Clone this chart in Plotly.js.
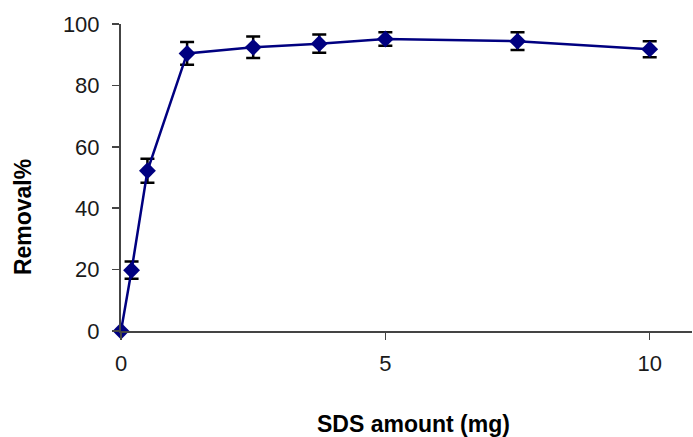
<!DOCTYPE html>
<html>
<head>
<meta charset="utf-8">
<script src="https://cdn.plot.ly/plotly-3.0.1.min.js"></script>
<style>html,body{margin:0;padding:0;background:#fff;}#chart{width:693px;height:437px;}</style>
</head>
<body>
<div id="chart"></div>
<script>
const sdsAmount = [0, 0.2, 0.5, 1.25, 2.5, 3.75, 5, 7.5, 10];
const removal = [0, 19.8, 52.2, 90.4, 92.4, 93.6, 95.1, 94.4, 91.8];
const removalErr = [0, 2.8, 3.9, 3.7, 3.5, 3.0, 2.2, 2.9, 2.6];
const xTicks = [0, 5, 10];
const yTicks = [0, 20, 40, 60, 80, 100];

const trace = {
  x: sdsAmount,
  y: removal,
  type: 'scatter',
  mode: 'lines+markers',
  cliponaxis: false,
  line: {color: '#000080', width: 2.5},
  marker: {symbol: 'diamond', size: 13, color: '#000080'},
  error_y: {type: 'data', array: removalErr, visible: true, color: '#000000', thickness: 2.5, width: 7}
};

const tickFont = {family: 'Liberation Sans, Arial, sans-serif', size: 22, color: '#1a1a1a'};
const titleFont = {family: 'Liberation Sans, Arial, sans-serif', size: 23, color: '#000000', weight: 'bold'};

const layout = {
  width: 693, height: 437,
  margin: {l: 121, r: 1, t: 24, b: 106},
  paper_bgcolor: '#ffffff', plot_bgcolor: '#ffffff',
  showlegend: false,
  xaxis: {
    range: [0, 10.8], tickvals: xTicks, ticktext: xTicks.map(String),
    showgrid: false, zeroline: false, showline: true, linecolor: '#444444', linewidth: 2,
    ticks: 'outside', ticklen: 7, tickwidth: 1.5, tickcolor: '#444444',
    tickfont: tickFont, ticklabelstandoff: 5
  },
  yaxis: {
    range: [0, 100], tickvals: yTicks, ticktext: yTicks.map(String),
    showgrid: false, zeroline: false, showline: true, linecolor: '#444444', linewidth: 2,
    ticks: 'outside', ticklen: 7, tickwidth: 1.5, tickcolor: '#444444',
    tickfont: tickFont, ticklabelstandoff: 8
  },
  annotations: [
    {text: 'SDS amount (mg)', xref: 'paper', yref: 'paper', x: 0.512, y: -0.303,
     xanchor: 'center', yanchor: 'middle', showarrow: false, font: titleFont},
    {text: 'Removal%', xref: 'paper', yref: 'paper', x: -0.1716, y: 0.371,
     xanchor: 'center', yanchor: 'middle', textangle: -90, showarrow: false, font: titleFont}
  ]
};

Plotly.newPlot('chart', [trace], layout, {displayModeBar: false, staticPlot: true});
</script>
</body>
</html>
